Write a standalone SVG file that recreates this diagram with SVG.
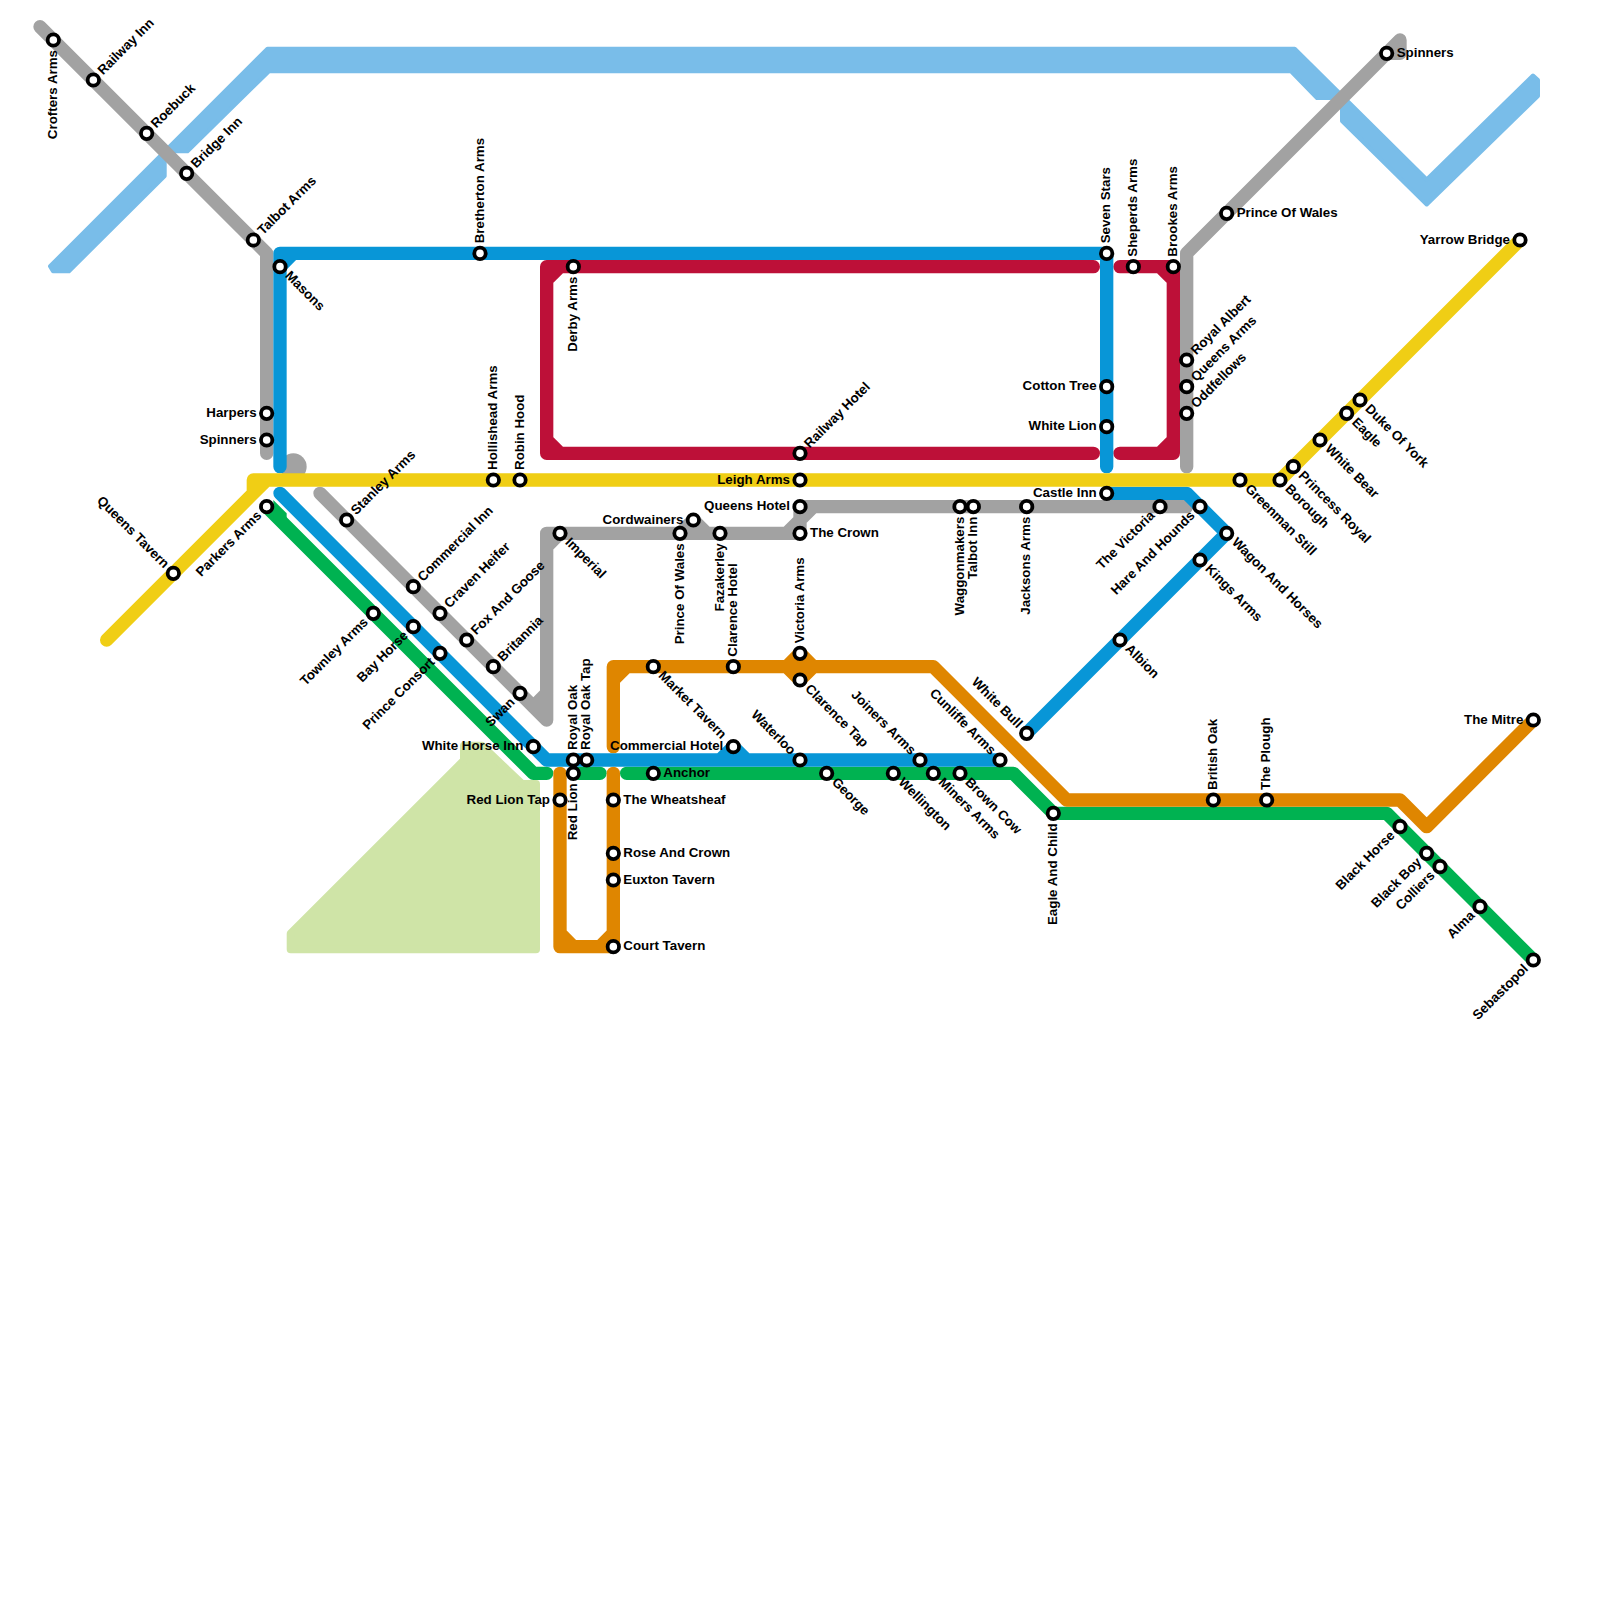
<svg xmlns="http://www.w3.org/2000/svg" width="1600" height="1600" viewBox="0 0 1600 1600">
<style>
text{font-family:"Liberation Sans",Arial,sans-serif;font-weight:700;font-size:13.33px;fill:#000}
.l{fill:none;stroke-width:1;stroke-linecap:round;stroke-linejoin:round}
.e{text-anchor:end}
circle{fill:#fff;stroke:#000;stroke-width:3.8}
.grey{stroke:#a2a2a2}.blue{stroke:#0896d7}.red{stroke:#bd1038}.yellow{stroke:#f0ce15}.green{stroke:#00b251}.orange{stroke:#df8600}
.area{stroke-linejoin:round}
</style>
<rect width="1600" height="1600" fill="#fff"/>
<g id="areas">
<path class="area" stroke-width="4" fill="#79bde9" stroke="#79bde9" d="M267.5,48.7H1294.7L1426.7,179.5L1533,75.5L1538,80V96L1426.7,204.5L1342,121V102L1342,98H1317L1291,71.3H269L187.5,151.3H164.7V176L69,271.3H53L50,266.2Z"/>
<path class="area" stroke-width="8" fill="#cfe4a7" stroke="#cfe4a7" d="M464,745.7H481.7L522,784H536V949.3H290.7V933.7L464,760.4Z"/>
</g>
<g id="connectors" transform="scale(13.33333)">
<circle cx="22" cy="35" r="1" style="fill:#a2a2a2;stroke:none"/>
<path class="l grey" d="M3,2L20,19V34"/>
<path class="l grey" d="M24,37L41,54V40H60V38H89M41,52L40,53M41,41L42,40M59,40L60,39M60,39L61,38M51,40L52,39L53,40"/>
<path class="l grey" d="M89,35V19L105,3V4H104"/>
<path class="l red" d="M82,20H41V34H82M41,21L42,20M41,33L42,34"/>
<path class="l red" d="M84,20H88V34H84M87,20L88,21M87,34L88,33"/>
<path class="l green" d="M20,38L40,58H41"/>
<polygon points="20.5,37.5 21.5,38.5 21.5,39 20.5,39" style="fill:#00b251"/>
<path class="l green" d="M43,58H45"/>
<path class="l green" d="M47,58H76L79,61H104L115,72"/>
<path class="l orange" d="M42,58V71H46V58M42,70L43,71M45,71L46,70"/>
<path class="l orange" d="M46,56V50H70L80,60H105L107,62L115,54M46,51L47,50M59,50L60,49L61,50M59,50L60,51L61,50"/>
<path class="l blue" d="M21,35V19H83V35M21,20L22,19"/>
<path class="l blue" d="M21,37L41,57H75M54,57L55,56L56,57"/>
<path class="l blue" d="M83,37H89L92,40L77,55"/>
<path class="l yellow" d="M8,48L20,36H96L114,18M19,37V36H20"/>
</g>
<g id="nodes">
<g id="n1" transform="translate(53.33 40)"><circle r="5.7"/><text transform="rotate(-90)" x="-10" dy="3.6" class="e">Crofters Arms</text></g>
<g id="n2" transform="translate(93.33 80)"><circle r="5.7"/><text transform="rotate(-45)" x="10" dy="3.6">Railway Inn</text></g>
<g id="n3" transform="translate(146.67 133.33)"><circle r="5.7"/><text transform="rotate(-45)" x="10" dy="3.6">Roebuck</text></g>
<g id="n4" transform="translate(186.67 173.33)"><circle r="5.7"/><text transform="rotate(-45)" x="10" dy="3.6">Bridge Inn</text></g>
<g id="n5" transform="translate(253.33 240)"><circle r="5.7"/><text transform="rotate(-45)" x="10" dy="3.6">Talbot Arms</text></g>
<g id="n6" transform="translate(280 266.67)"><circle r="5.7"/><text transform="rotate(45)" x="10" dy="3.6">Masons</text></g>
<g id="n7" transform="translate(266.67 413.33)"><circle r="5.7"/><text x="-10" dy="3.6" class="e">Harpers</text></g>
<g id="n8" transform="translate(266.67 440)"><circle r="5.7"/><text x="-10" dy="3.6" class="e">Spinners</text></g>
<g id="n9" transform="translate(173.33 573.33)"><circle r="5.7"/><text transform="rotate(45)" x="-10" dy="3.6" class="e">Queens Tavern</text></g>
<g id="n10" transform="translate(266.67 506.67)"><circle r="5.7"/><text transform="rotate(-45)" x="-10" dy="3.6" class="e">Parkers Arms</text></g>
<g id="n11" transform="translate(346.67 520)"><circle r="5.7"/><text transform="rotate(-45)" x="10" dy="3.6">Stanley Arms</text></g>
<g id="n12" transform="translate(413.33 586.67)"><circle r="5.7"/><text transform="rotate(-45)" x="10" dy="3.6">Commercial Inn</text></g>
<g id="n13" transform="translate(440 613.33)"><circle r="5.7"/><text transform="rotate(-45)" x="10" dy="3.6">Craven Heifer</text></g>
<g id="n14" transform="translate(466.67 640)"><circle r="5.7"/><text transform="rotate(-45)" x="10" dy="3.6">Fox And Goose</text></g>
<g id="n15" transform="translate(493.33 666.67)"><circle r="5.7"/><text transform="rotate(-45)" x="10" dy="3.6">Britannia</text></g>
<g id="n16" transform="translate(520 693.33)"><circle r="5.7"/><text transform="rotate(-45)" x="-10" dy="3.6" class="e">Swan</text></g>
<g id="n17" transform="translate(373.33 613.33)"><circle r="5.7"/><text transform="rotate(-45)" x="-10" dy="3.6" class="e">Townley Arms</text></g>
<g id="n18" transform="translate(413.33 626.67)"><circle r="5.7"/><text transform="rotate(-45)" x="-10" dy="3.6" class="e">Bay Horse</text></g>
<g id="n19" transform="translate(440 653.33)"><circle r="5.7"/><text transform="rotate(-45)" x="-10" dy="3.6" class="e">Prince Consort</text></g>
<g id="n20" transform="translate(533.33 746.67)"><circle r="5.7"/><text x="-10" dy="3.6" class="e">White Horse Inn</text></g>
<g id="n21" transform="translate(493.33 480)"><circle r="5.7"/><text transform="rotate(-90)" x="10" dy="3.6">Hollishead Arms</text></g>
<g id="n22" transform="translate(520 480)"><circle r="5.7"/><text transform="rotate(-90)" x="10" dy="3.6">Robin Hood</text></g>
<g id="n23" transform="translate(480 253.33)"><circle r="5.7"/><text transform="rotate(-90)" x="10" dy="3.6">Bretherton Arms</text></g>
<g id="n24" transform="translate(573.33 266.67)"><circle r="5.7"/><text transform="rotate(-90)" x="-10" dy="3.6" class="e">Derby Arms</text></g>
<g id="n25" transform="translate(560 533.33)"><circle r="5.7"/><text transform="rotate(45)" x="10" dy="3.6">Imperial</text></g>
<g id="n26" transform="translate(693.33 520)"><circle r="5.7"/><text x="-10" dy="3.6" class="e">Cordwainers</text></g>
<g id="n27" transform="translate(680 533.33)"><circle r="5.7"/><text transform="rotate(-90)" x="-10" dy="3.6" class="e">Prince Of Wales</text></g>
<g id="n28" transform="translate(720 533.33)"><circle r="5.7"/><text transform="rotate(-90)" x="-10" dy="3.6" class="e">Fazakerley</text></g>
<g id="n29" transform="translate(800 533.33)"><circle r="5.7"/><text x="10" dy="3.6">The Crown</text></g>
<g id="n30" transform="translate(800 506.67)"><circle r="5.7"/><text x="-10" dy="3.6" class="e">Queens Hotel</text></g>
<g id="n31" transform="translate(800 480)"><circle r="5.7"/><text x="-10" dy="3.6" class="e">Leigh Arms</text></g>
<g id="n32" transform="translate(800 453.33)"><circle r="5.7"/><text transform="rotate(-45)" x="10" dy="3.6">Railway Hotel</text></g>
<g id="n33" transform="translate(960 506.67)"><circle r="5.7"/><text transform="rotate(-90)" x="-10" dy="3.6" class="e">Waggonmakers</text></g>
<g id="n34" transform="translate(973.33 506.67)"><circle r="5.7"/><text transform="rotate(-90)" x="-10" dy="3.6" class="e">Talbot Inn</text></g>
<g id="n35" transform="translate(1026.67 506.67)"><circle r="5.7"/><text transform="rotate(-90)" x="-10" dy="3.6" class="e">Jacksons Arms</text></g>
<g id="n36" transform="translate(800 653.33)"><circle r="5.7"/><text transform="rotate(-90)" x="10" dy="3.6">Victoria Arms</text></g>
<g id="n37" transform="translate(800 680)"><circle r="5.7"/><text transform="rotate(45)" x="10" dy="3.6">Clarence Tap</text></g>
<g id="n38" transform="translate(733.33 666.67)"><circle r="5.7"/><text transform="rotate(-90)" x="10" dy="3.6">Clarence Hotel</text></g>
<g id="n39" transform="translate(653.33 666.67)"><circle r="5.7"/><text transform="rotate(45)" x="10" dy="3.6">Market Tavern</text></g>
<g id="n40" transform="translate(733.33 746.67)"><circle r="5.7"/><text x="-10" dy="3.6" class="e">Commercial Hotel</text></g>
<g id="n41" transform="translate(800 760)"><circle r="5.7"/><text transform="rotate(45)" x="-10" dy="3.6" class="e">Waterloo</text></g>
<g id="n42" transform="translate(573.33 760)"><circle r="5.7"/><text transform="rotate(-90)" x="10" dy="3.6">Royal Oak</text></g>
<g id="n43" transform="translate(586.67 760)"><circle r="5.7"/><text transform="rotate(-90)" x="10" dy="3.6">Royal Oak Tap</text></g>
<g id="n44" transform="translate(573.33 773.33)"><circle r="5.7"/><text transform="rotate(-90)" x="-10" dy="3.6" class="e">Red Lion</text></g>
<g id="n45" transform="translate(653.33 773.33)"><circle r="5.7"/><text x="10" dy="3.6">Anchor</text></g>
<g id="n46" transform="translate(826.67 773.33)"><circle r="5.7"/><text transform="rotate(45)" x="10" dy="3.6">George</text></g>
<g id="n47" transform="translate(893.33 773.33)"><circle r="5.7"/><text transform="rotate(45)" x="10" dy="3.6">Wellington</text></g>
<g id="n48" transform="translate(920 760)"><circle r="5.7"/><text transform="rotate(45)" x="-10" dy="3.6" class="e">Joiners Arms</text></g>
<g id="n49" transform="translate(933.33 773.33)"><circle r="5.7"/><text transform="rotate(45)" x="10" dy="3.6">Miners Arms</text></g>
<g id="n50" transform="translate(960 773.33)"><circle r="5.7"/><text transform="rotate(45)" x="10" dy="3.6">Brown Cow</text></g>
<g id="n51" transform="translate(1000 760)"><circle r="5.7"/><text transform="rotate(45)" x="-10" dy="3.6" class="e">Cunliffe Arms</text></g>
<g id="n52" transform="translate(1053.33 813.33)"><circle r="5.7"/><text transform="rotate(-90)" x="-10" dy="3.6" class="e">Eagle And Child</text></g>
<g id="n53" transform="translate(1026.67 733.33)"><circle r="5.7"/><text transform="rotate(45)" x="-10" dy="3.6" class="e">White Bull</text></g>
<g id="n54" transform="translate(560 800)"><circle r="5.7"/><text x="-10" dy="3.6" class="e">Red Lion Tap</text></g>
<g id="n55" transform="translate(613.33 800)"><circle r="5.7"/><text x="10" dy="3.6">The Wheatsheaf</text></g>
<g id="n56" transform="translate(613.33 853.33)"><circle r="5.7"/><text x="10" dy="3.6">Rose And Crown</text></g>
<g id="n57" transform="translate(613.33 880)"><circle r="5.7"/><text x="10" dy="3.6">Euxton Tavern</text></g>
<g id="n58" transform="translate(613.33 946.67)"><circle r="5.7"/><text x="10" dy="3.6">Court Tavern</text></g>
<g id="n59" transform="translate(1213.33 800)"><circle r="5.7"/><text transform="rotate(-90)" x="10" dy="3.6">British Oak</text></g>
<g id="n60" transform="translate(1266.67 800)"><circle r="5.7"/><text transform="rotate(-90)" x="10" dy="3.6">The Plough</text></g>
<g id="n61" transform="translate(1400 826.67)"><circle r="5.7"/><text transform="rotate(-45)" x="-10" dy="3.6" class="e">Black Horse</text></g>
<g id="n62" transform="translate(1426.67 853.33)"><circle r="5.7"/><text transform="rotate(-45)" x="-10" dy="3.6" class="e">Black Boy</text></g>
<g id="n63" transform="translate(1440 866.67)"><circle r="5.7"/><text transform="rotate(-45)" x="-10" dy="3.6" class="e">Colliers</text></g>
<g id="n64" transform="translate(1480 906.67)"><circle r="5.7"/><text transform="rotate(-45)" x="-10" dy="3.6" class="e">Alma</text></g>
<g id="n65" transform="translate(1533.33 960)"><circle r="5.7"/><text transform="rotate(-45)" x="-10" dy="3.6" class="e">Sebastopol</text></g>
<g id="n66" transform="translate(1533.33 720)"><circle r="5.7"/><text x="-10" dy="3.6" class="e">The Mitre</text></g>
<g id="n67" transform="translate(1106.67 253.33)"><circle r="5.7"/><text transform="rotate(-90)" x="10" dy="3.6">Seven Stars</text></g>
<g id="n68" transform="translate(1133.33 266.67)"><circle r="5.7"/><text transform="rotate(-90)" x="10" dy="3.6">Sheperds Arms</text></g>
<g id="n69" transform="translate(1173.33 266.67)"><circle r="5.7"/><text transform="rotate(-90)" x="10" dy="3.6">Brookes Arms</text></g>
<g id="n70" transform="translate(1106.67 386.67)"><circle r="5.7"/><text x="-10" dy="3.6" class="e">Cotton Tree</text></g>
<g id="n71" transform="translate(1106.67 426.67)"><circle r="5.7"/><text x="-10" dy="3.6" class="e">White Lion</text></g>
<g id="n72" transform="translate(1106.67 493.33)"><circle r="5.7"/><text x="-10" dy="3.6" class="e">Castle Inn</text></g>
<g id="n73" transform="translate(1186.67 360)"><circle r="5.7"/><text transform="rotate(-45)" x="10" dy="3.6">Royal Albert</text></g>
<g id="n74" transform="translate(1186.67 386.67)"><circle r="5.7"/><text transform="rotate(-45)" x="10" dy="3.6">Queens Arms</text></g>
<g id="n75" transform="translate(1186.67 413.33)"><circle r="5.7"/><text transform="rotate(-45)" x="10" dy="3.6">Oddfellows</text></g>
<g id="n76" transform="translate(1160 506.67)"><circle r="5.7"/><text transform="rotate(-45)" x="-10" dy="3.6" class="e">The Victoria</text></g>
<g id="n77" transform="translate(1200 506.67)"><circle r="5.7"/><text transform="rotate(-45)" x="-10" dy="3.6" class="e">Hare And Hounds</text></g>
<g id="n78" transform="translate(1226.67 533.33)"><circle r="5.7"/><text transform="rotate(45)" x="10" dy="3.6">Wagon And Horses</text></g>
<g id="n79" transform="translate(1200 560)"><circle r="5.7"/><text transform="rotate(45)" x="10" dy="3.6">Kings Arms</text></g>
<g id="n80" transform="translate(1120 640)"><circle r="5.7"/><text transform="rotate(45)" x="10" dy="3.6">Albion</text></g>
<g id="n81" transform="translate(1240 480)"><circle r="5.7"/><text transform="rotate(45)" x="10" dy="3.6">Greenman Still</text></g>
<g id="n82" transform="translate(1280 480)"><circle r="5.7"/><text transform="rotate(45)" x="10" dy="3.6">Borough</text></g>
<g id="n83" transform="translate(1293.33 466.67)"><circle r="5.7"/><text transform="rotate(45)" x="10" dy="3.6">Princess Royal</text></g>
<g id="n84" transform="translate(1320 440)"><circle r="5.7"/><text transform="rotate(45)" x="10" dy="3.6">White Bear</text></g>
<g id="n85" transform="translate(1346.67 413.33)"><circle r="5.7"/><text transform="rotate(45)" x="10" dy="3.6">Eagle</text></g>
<g id="n86" transform="translate(1360 400)"><circle r="5.7"/><text transform="rotate(45)" x="10" dy="3.6">Duke Of York</text></g>
<g id="n87" transform="translate(1520 240)"><circle r="5.7"/><text x="-10" dy="3.6" class="e">Yarrow Bridge</text></g>
<g id="n88" transform="translate(1226.67 213.33)"><circle r="5.7"/><text x="10" dy="3.6">Prince Of Wales</text></g>
<g id="n89" transform="translate(1386.67 53.33)"><circle r="5.7"/><text x="10" dy="3.6">Spinners</text></g>
</g>
</svg>
